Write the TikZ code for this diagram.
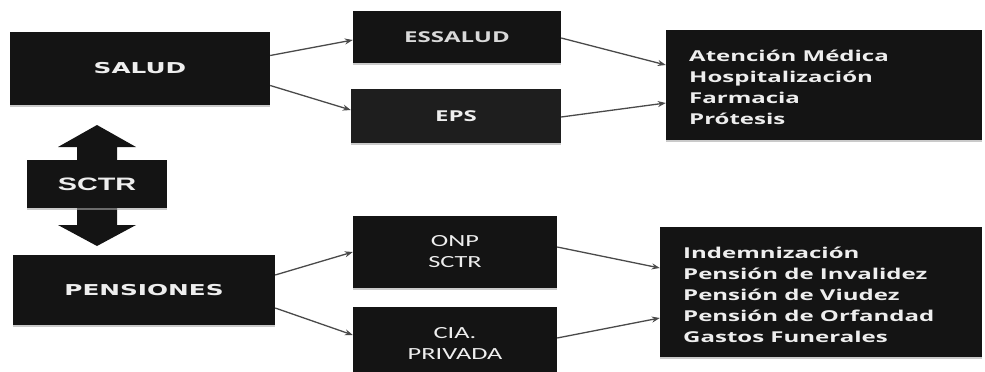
\documentclass[tikz,border=0pt]{standalone}
\usepackage{fontspec}
\newfontfamily\fa[FakeStretch=1.65]{DejaVu Sans}
\newfontfamily\fb[FakeStretch=1.6]{Open Sans}
\newfontfamily\fc[FakeStretch=1.6]{Liberation Sans}
\newfontfamily\fd[FakeStretch=1.55]{Carlito}
\usetikzlibrary{arrows.meta,shadows}
\definecolor{boxblack}{HTML}{141414}
\definecolor{boxdark}{HTML}{1E1E1E}
\definecolor{textwhite}{HTML}{EEEEEE}
\definecolor{linegray}{HTML}{4A4A4A}
\begin{document}
\begin{tikzpicture}[x=1pt,y=-1pt,
  box/.style={fill=boxblack, draw=none, inner sep=0pt, text=textwhite,
    drop shadow={shadow xshift=0pt, shadow yshift=-2pt, fill=black!35, opacity=0.6}},
  lab/.style={font=\fa\bfseries\fontsize{15}{18}\selectfont},
  mid/.style={font=\fb\bfseries\fontsize{15}{18}\selectfont},
  two/.style={align=center, font=\fd\fontsize{17}{21}\selectfont},
  list/.style={text=textwhite, anchor=west, align=left, inner sep=0pt,
    font=\fb\bfseries\fontsize{15}{21}\selectfont},
  conn/.style={draw=linegray, line width=1.3pt, -{Stealth[length=8pt,width=6pt]}}]
\useasboundingbox (0,0) rectangle (985,372);
% left column
\node[box, lab, minimum width=260pt, minimum height=73pt] (salud) at (140,68.5) {SALUD};
\node[box, lab, minimum width=262pt, minimum height=70pt] (pens) at (144,290) {PENSIONES};
% double arrow
\fill[boxblack] (97,125) -- (136,147) -- (117,147) -- (117,225) -- (136,225) -- (97,246)
  -- (58,225) -- (77,225) -- (77,147) -- (58,147) -- cycle;
\node[box, minimum width=140pt, minimum height=48pt, font=\fc\bfseries\fontsize{18}{20}\selectfont] (sctr) at (97,184) {SCTR};
% middle column
\node[box, mid, text=black!15, minimum width=208pt, minimum height=52pt] (essalud) at (457,37) {ESSALUD};
\node[box, mid, fill=boxdark, minimum width=210pt, minimum height=54pt] (eps) at (456,116) {EPS};
\node[box, two, minimum width=204pt, minimum height=72pt] (onp) at (455,252) {ONP\\SCTR};
\node[box, two, minimum width=204pt, minimum height=72pt] (cia) at (455,343) {CIA.\\PRIVADA};
% right column
\node[box, minimum width=316pt, minimum height=110pt] (rtop) at (824,85) {};
\node[list] (ltop) at (689,87)
  {Atención Médica\\Hospitalización\\Farmacia\\Prótesis};
\node[box, minimum width=322pt, minimum height=130pt] (rbot) at (821,292) {};
\node[list] (lbot) at (683,295)
  {Indemnización\\Pensión de Invalidez\\Pensión de Viudez\\Pensión de Orfandad\\Gastos Funerales};
% connectors
\draw[conn] ([yshift=13pt]salud.east) -- ([yshift=-3pt]essalud.west);
\draw[conn] ([yshift=-17pt]salud.east) -- ([yshift=6pt]eps.west);
\draw[conn] ([yshift=-1pt]essalud.east) -- ([yshift=20pt]rtop.west);
\draw[conn] ([yshift=-1pt]eps.east) -- ([yshift=-18pt]rtop.west);
\draw[conn] ([yshift=15pt]pens.east) -- ([yshift=0pt]onp.west);
\draw[conn] ([yshift=-18pt]pens.east) -- ([yshift=8pt]cia.west);
\draw[conn] ([yshift=5pt]onp.east) -- ([yshift=24pt]rbot.west);
\draw[conn] ([yshift=5pt]cia.east) -- ([yshift=-26pt]rbot.west);
\end{tikzpicture}
\end{document}
